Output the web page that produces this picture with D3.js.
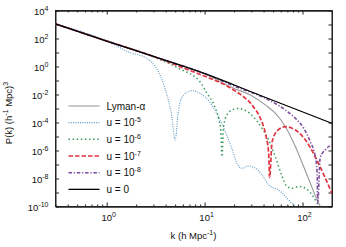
<!DOCTYPE html>
<html>
<head>
<meta charset="utf-8">
<script src="https://cdn.jsdelivr.net/npm/d3@7"></script>
<style>
  body { margin: 0; background: #fff; }
  text { font-family: "Liberation Sans", Arial, sans-serif; fill: #111; }
</style>
</head>
<body>
<div id="chart"></div>
<script>
// values: [k, P(k)]
var uZero = [[0.3, 1100], [1, 66], [3.12, 4.8], [9.9, 0.32], [37.2, 0.0085], [200, 8.7e-5]];

var lymanAlpha = [[0.3, 1100], [1, 66], [3.12, 4.8], [9.9, 0.32], [19.77, 0.028], [29.3, 0.0091],
  [41.7, 0.0018], [52.7, 4.6e-4], [66.8, 5.0e-5], [84.5, 1.9e-6], [102.8, 6.9e-8],
  [120.2, 4.6e-9], [140.9, 2.9e-10], [152.4, 1e-10]];

var u1e5 = [[0.3, 1100], [1, 66], [1.73, 10], [2.56, 3.9], [3.77, 0.066], [4.62, 2.6e-4],
  [5.0, 5.5e-6], [5.41, 7.8e-4], [6.08, 0.0091], [7.41, 0.019], [9.02, 0.012], [11.43, 0.0025],
  [13.87, 2.6e-4], [16.26, 2.2e-5], [19.0, 1.4e-6], [21.4, 1.2e-7], [24.1, 5.4e-8],
  [28.1, 7.8e-8], [33.0, 5.4e-8], [38.5, 1.8e-8], [45.1, 3.5e-9], [57.0, 1.5e-9],
  [81.3, 1.3e-10], [85.1, 1e-10]];

var u1e6 = [[0.3, 1100], [1, 66], [3.25, 3.9], [5.62, 0.66], [9.02, 0.078], [10.57, 0.012],
  [12.33, 0.0021], [13.87, 2.0e-4], [14.69, 2.1e-5], [15.03, 3.6e-7], [15.6, 5.0e-5],
  [16.9, 3.5e-4], [19.0, 7.8e-4], [22.2, 0.001], [26.1, 7.2e-4], [31.6, 2.5e-4],
  [38.5, 3.9e-5], [45.1, 5.6e-6], [52.7, 3.6e-7], [61.8, 1.5e-8], [69.5, 2.6e-9],
  [78.3, 2.0e-9], [91.4, 2.7e-9], [107.2, 2.0e-9], [125.3, 6.6e-10], [140.9, 1.7e-10],
  [146.6, 1e-10]];

var u1e7 = [[0.3, 1100], [1, 66], [3.12, 4.8], [5.62, 0.98], [9.02, 0.27], [11.43, 0.14],
  [15.6, 0.056], [19.77, 0.021], [25.0, 0.0069], [31.6, 0.0013], [37.1, 2.0e-4],
  [41.7, 1.7e-5], [45.1, 6.3e-7], [46.1, 1.2e-8], [48.9, 4.1e-6], [55.0, 2.5e-5],
  [66.8, 5.0e-5], [84.5, 2.9e-5], [107.2, 5.6e-6], [131.8, 4.8e-7], [165.2, 1.8e-8],
  [200, 8.7e-10]];

var u1e8 = [[0.3, 1100], [1, 66], [3.12, 4.8], [9.9, 0.32], [23.1, 0.027], [37.1, 0.0078],
  [52.7, 0.0023], [66.8, 7.8e-4], [84.5, 2.0e-4], [102.8, 3.9e-5], [120.2, 4.1e-6],
  [135.2, 3.5e-7], [140.9, 2.9e-8], [142.9, 1.8e-10], [151.4, 2.9e-7], [169.8, 1.1e-6],
  [200, 2.5e-6]];

var legendLabels = [["Lyman-\u03b1", null], ["u = 10", "-5"], ["u = 10", "-6"],
  ["u = 10", "-7"], ["u = 10", "-8"], ["u = 0", null]];
var xMajorTicks = [1, 10, 100];
var yTickExps = d3.range(-10, 5);

var svgWidth = 346;
var svgHeight = 247;
var margin = { top: 10.5, right: 14, bottom: 40.5, left: 55.5 };
var width = svgWidth - margin.left - margin.right;
var height = svgHeight - margin.top - margin.bottom;

var svg = d3.select("#chart").append("svg")
  .attr("width", svgWidth)
  .attr("height", svgHeight);

var chartGroup = svg.append("g")
  .attr("transform", `translate(${margin.left}, ${margin.top})`);

var x = d3.scaleLog().domain([0.3, 200]).range([0, width]);
var y = d3.scaleLog().domain([1e-10, 1e4]).range([height, 0]);

svg.append("clipPath").attr("id", "clip")
  .append("rect").attr("width", width).attr("height", height);

// minor ticks on k axis
var xMinor = [];
[0.1, 1, 10, 100].forEach(function(d) {
  for (var m = 2; m <= 9; m++) {
    var v = d * m;
    if (v >= 0.3 && v <= 200 && xMajorTicks.indexOf(v) < 0) xMinor.push(v);
  }
});

chartGroup.append("g").attr("transform", `translate(0, ${height})`)
  .call(d3.axisBottom(x).tickValues(xMinor).tickSizeInner(-2).tickSizeOuter(0).tickFormat(""));
chartGroup.append("g")
  .call(d3.axisTop(x).tickValues(xMinor).tickSizeInner(-2).tickSizeOuter(0).tickFormat(""));
chartGroup.append("g")
  .call(d3.axisTop(x).tickValues(xMajorTicks).tickSizeInner(-4).tickSizeOuter(0).tickFormat(""));

chartGroup.append("g").attr("transform", `translate(0, ${height})`)
  .call(d3.axisBottom(x).tickValues(xMajorTicks).tickSizeInner(-4).tickSizeOuter(0).tickFormat(""));

var yVals = yTickExps.map(e => Math.pow(10, e));
chartGroup.append("g")
  .call(d3.axisLeft(y).tickValues(yVals).tickSizeInner(-3.5).tickSizeOuter(0).tickFormat(""));
chartGroup.append("g").attr("transform", `translate(${width}, 0)`)
  .call(d3.axisRight(y).tickValues(yVals).tickSizeInner(-3.5).tickSizeOuter(0).tickFormat(""));

chartGroup.selectAll(".domain").attr("stroke", "#222");
chartGroup.selectAll(".tick line").attr("stroke", "#222");

// frame
chartGroup.append("rect")
  .attr("width", width).attr("height", height)
  .attr("fill", "none").attr("stroke", "#222").attr("stroke-width", 1);

// tick labels as 10 with a superscript exponent
function powerLabel(sel, base, exp) {
  sel.append("tspan").text(base).attr("font-size", "9.5px");
  sel.append("tspan").text(exp).attr("font-size", "7px").attr("dy", "-4");
}

xMajorTicks.forEach(function(v) {
  var t = chartGroup.append("text")
    .attr("x", x(v) + 2)
    .attr("y", height + 14.5)
    .attr("text-anchor", "middle");
  powerLabel(t, "10", String(Math.round(Math.log10(v))));
});

yTickExps.filter(e => e % 2 === 0).forEach(function(e) {
  var t = chartGroup.append("text")
    .attr("x", -7)
    .attr("y", y(Math.pow(10, e)) + 4)
    .attr("text-anchor", "end");
  powerLabel(t, "10", String(e));
});

// axis titles
var xt = chartGroup.append("text")
  .attr("x", 138)
  .attr("y", height + 32.5)
  .attr("text-anchor", "middle")
  .attr("font-size", "9.5px");
xt.append("tspan").text("k (h Mpc");
xt.append("tspan").text("-1").attr("font-size", "7px").attr("dy", "-4");
xt.append("tspan").text(")").attr("dy", "4");

var yt = svg.append("text")
  .attr("transform", "translate(12, 113) rotate(-90)")
  .attr("text-anchor", "middle")
  .attr("font-size", "9.5px");
yt.append("tspan").text("P(k) (h");
yt.append("tspan").text("-1").attr("font-size", "7px").attr("dy", "-4");
yt.append("tspan").text(" Mpc)").attr("dy", "4");
yt.append("tspan").text("3").attr("font-size", "7px").attr("dy", "-4");

// curves
var series = [
  { data: lymanAlpha, color: "#9a9a9a", width: 1.1, dash: null, cap: "butt" },
  { data: u1e5, color: "#5a98c6", width: 1.1, dash: "1,1.3", cap: "butt" },
  { data: u1e6, color: "#3f9a5e", width: 1.5, dash: "1.5,2.6", cap: "butt" },
  { data: u1e7, color: "#e2343f", width: 1.7, dash: "4.5,2", cap: "butt" },
  { data: u1e8, color: "#7d4b9c", width: 1.6, dash: "3.5,1.8,1.2,1.8", cap: "butt" },
  { data: uZero, color: "#000", width: 1.3, dash: null, cap: "butt" }
];

var line = d3.line()
  .x(d => x(d[0]))
  .y(d => y(d[1]))
  .curve(d3.curveMonotoneX);

var plotArea = chartGroup.append("g").attr("clip-path", "url(#clip)");
plotArea.selectAll("path.curve")
  .data(series)
  .enter()
  .append("path")
  .attr("class", "curve")
  .attr("d", d => line(d.data))
  .attr("fill", "none")
  .attr("stroke", d => d.color)
  .attr("stroke-width", d => d.width)
  .attr("stroke-linecap", d => d.cap)
  .attr("stroke-dasharray", d => d.dash);

// legend
var legend = chartGroup.append("g");
series.forEach(function(s, i) {
  var ly = 95.5 + i * 16.67;
  legend.append("line")
    .attr("x1", 13).attr("x2", 44)
    .attr("y1", ly).attr("y2", ly)
    .attr("stroke", s.color)
    .attr("stroke-width", s.width)
    .attr("stroke-dasharray", s.dash);
  var t = legend.append("text")
    .attr("x", 51)
    .attr("y", ly + 3.6)
    .attr("font-size", "10px");
  t.append("tspan").text(legendLabels[i][0]);
  if (legendLabels[i][1]) {
    t.append("tspan").text(legendLabels[i][1]).attr("font-size", "7px").attr("dy", "-4");
  }
});
</script>
</body>
</html>
